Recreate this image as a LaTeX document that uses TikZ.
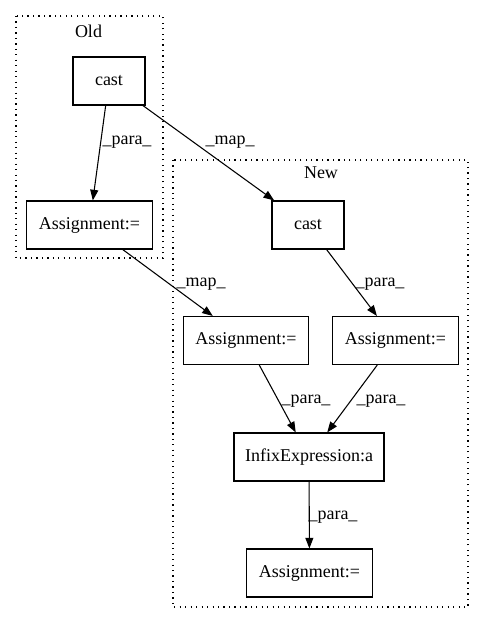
\documentclass[tikz,border=0pt]{standalone}
\usepackage{fontspec}
\setmainfont{Liberation Serif}
\usetikzlibrary{arrows.meta}
\begin{document}
\begin{tikzpicture}[x=0.75pt,y=-0.75pt,
  font=\fontsize{13.5pt}{16pt}\selectfont,
  box/.style={draw,line width=0.8pt,minimum height=36pt,inner sep=0pt},
  narrow/.style={box,minimum width=54pt},
  wide/.style={box,minimum width=94pt},
  wider/.style={box,minimum width=112.5pt},
  cluster/.style={draw,line width=0.8pt,dash pattern=on 0.9pt off 3.2pt},
  lbl/.style={inner sep=0pt},
  edge/.style={draw,line width=0.8pt,-{Triangle[length=8pt,width=6pt]}}]
\useasboundingbox (0,0) rectangle (485,624);
% clusters
\draw[cluster] (16,16) rectangle (163,258);
\draw[cluster] (173,160) rectangle (468,607);
\node[lbl] (oldlbl) at (88.5,31) {Old};
\node[lbl] (newlbl) at (321,173) {New};
% nodes
\node[narrow] (oc) at (109,81) {cast};
\node[wide] (oa) at (89.5,225) {Assignment:=};
\node[narrow] (nc) at (308,225) {cast};
\node[wide] (na1) at (246,340.5) {Assignment:=};
\node[wide] (na2) at (395.5,340.5) {Assignment:=};
\node[wider] (ie) at (309,457) {InfixExpression:a};
\node[wide] (na3) at (309.5,573) {Assignment:=};
% edges
\path[edge] (oc) -- (oa);
\path[edge] (oc) -- (nc);
\path[edge] (oa) -- (na1);
\path[edge] (nc) -- (na2);
\path[edge] (na1) -- (ie);
\path[edge] (na2) -- (ie);
\path[edge] (ie) -- (na3);
% edge labels
\node[lbl] (l1) at (127,142) {\_para\_};
\node[lbl] (l2) at (230,142) {\_map\_};
\node[lbl] (l3) at (201,284) {\_map\_};
\node[lbl] (l4) at (380,284) {\_para\_};
\node[lbl] (l5) at (306,401) {\_para\_};
\node[lbl] (l6) at (381,401) {\_para\_};
\node[lbl] (l7) at (333,517) {\_para\_};
\end{tikzpicture}
\end{document}
